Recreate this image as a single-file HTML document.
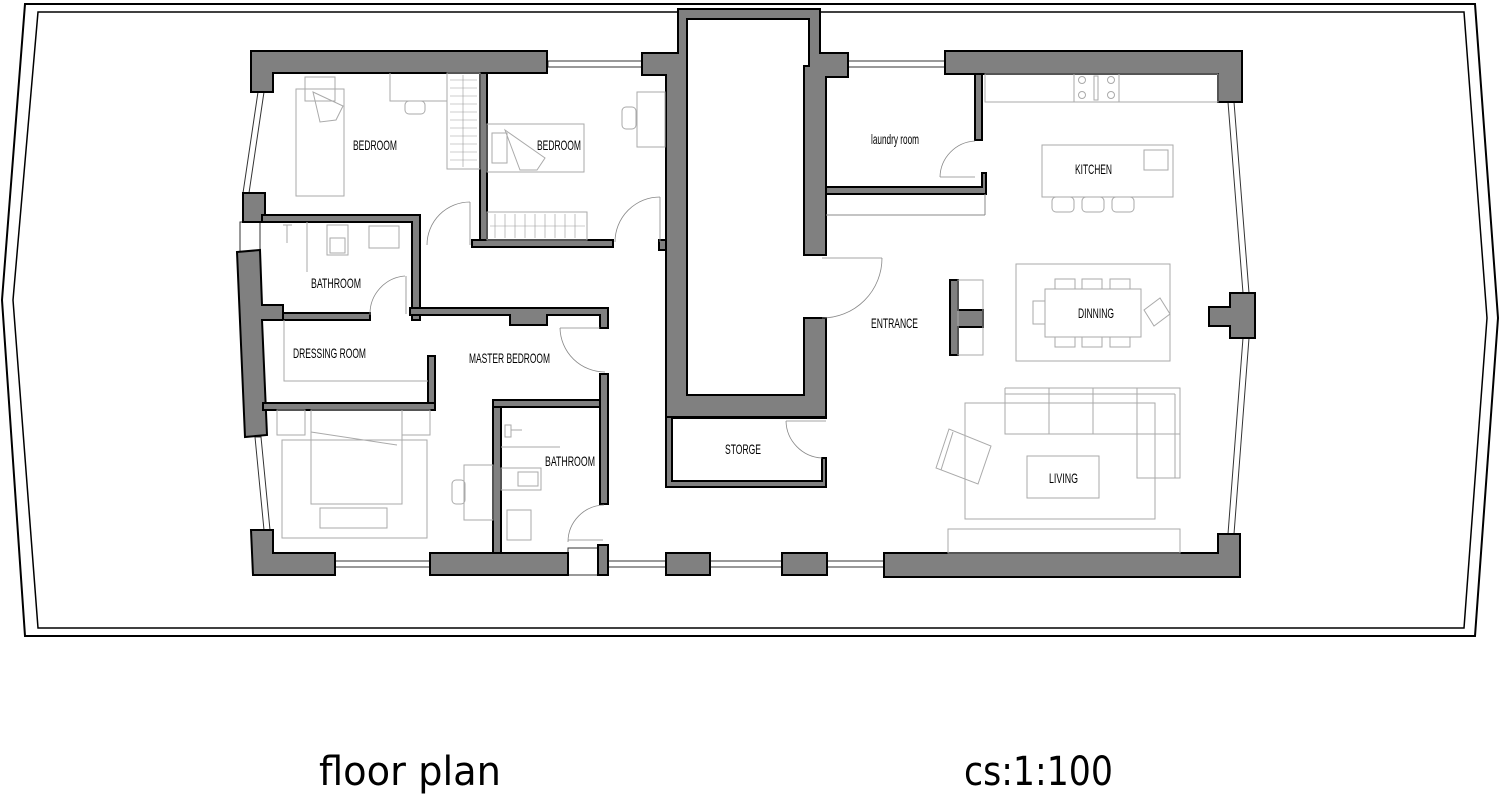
<!DOCTYPE html>
<html><head><meta charset="utf-8">
<style>
html,body{margin:0;padding:0;background:#fff;}
svg{display:block;}
.w{fill:#808080;stroke:#000;stroke-width:2;}
.f{fill:none;stroke:#aaa;stroke-width:1;}
.d{fill:none;stroke:#888;stroke-width:0.8;}
.win{fill:#fff;stroke:#333;stroke-width:1;}
.t{font-family:"Liberation Sans",sans-serif;font-size:14px;fill:#000;}
</style></head>
<body>
<svg width="1500" height="795" viewBox="0 0 1500 795" xmlns="http://www.w3.org/2000/svg">
<polygon points="25,4 1475,4 1498,318 1475,636 25,636 2,300" fill="none" stroke="#000" stroke-width="2"/>
<polygon points="38,12 1464,12 1487,318 1464,628 38,628 13,300" fill="none" stroke="#000" stroke-width="1.5"/>

<rect class="win" x="548" y="61" width="94" height="6"/>
<rect class="win" x="848" y="61" width="97" height="6"/>
<rect class="win" x="335" y="561" width="96" height="6"/>
<rect class="win" x="608" y="561" width="58" height="6"/>
<rect class="win" x="710" y="561" width="72" height="6"/>
<rect class="win" x="827" y="561" width="57" height="6"/>
<rect class="win" x="568" y="548" width="30" height="27" fill="none"/>
<polygon class="win" points="258,92 264,92 249,193 243,193"/>
<polygon class="win" points="255,437 261,437 270,530 264,530"/>
<polygon class="win" points="1228,102 1234,102 1249,293 1243,293"/>
<polygon class="win" points="1243,338 1249,338 1234,534 1228,534"/>
<rect x="240" y="222" width="20" height="30" fill="#fff" stroke="#333" stroke-width="1"/>

<polygon class="w" points="251,51 547,51 547,73 273,73 273,92 251,92"/>
<polygon class="w" points="243,193 265,193 265,216 262,216 262,222 243,222"/>
<polygon class="w" points="237,252 260,250 262,305 283,305 283,320 262,320 267,435 245,437"/>
<polygon class="w" points="251,530 273,530 273,553 335,553 335,575 253,575"/>
<rect class="w" x="430" y="553" width="138" height="22"/>
<rect class="w" x="598" y="545" width="10" height="30"/>
<rect class="w" x="666" y="553" width="44" height="22"/>
<rect class="w" x="782" y="553" width="45" height="22"/>
<polygon class="w" points="884,553 1218,553 1218,534 1240,534 1240,577 884,577"/>
<polygon class="w" points="945,51 1242,51 1242,102 1218,102 1218,74 945,74"/>
<polygon class="w" points="1209,307 1230,307 1230,293 1255,293 1255,338 1230,338 1230,326 1209,326"/>

<path class="w" fill-rule="evenodd" d="M678,9 L820,9 L820,53 L848,53 L848,77 L826,77 L826,255 L804,255 L804,66 L809,66 L809,19 L687,19 L687,395 L804,395 L804,318 L826,318 L826,417 L666,417 L666,75 L642,75 L642,53 L678,53 Z"/>
<path class="w" d="M666,417 L826,417 L826,418 L672,418 L672,481 L822,481 L822,458 L826,458 L826,487 L666,487 Z"/>

<polygon class="w" points="262,215 420,215 420,320 412,320 412,222 262,222"/>
<rect class="w" x="283" y="313" width="87" height="7"/>
<polygon class="w" points="410,308 608,308 608,328 600,328 600,315 547,315 547,325 510,325 510,315 410,315"/>
<rect class="w" x="480" y="73" width="7" height="172"/>
<rect class="w" x="472" y="240" width="141" height="7"/>
<rect class="w" x="659" y="240" width="7" height="10"/>
<rect class="w" x="428" y="356" width="7" height="52"/>
<rect class="w" x="263" y="403" width="172" height="7"/>
<rect class="w" x="493" y="400" width="8" height="153"/>
<rect class="w" x="493" y="400" width="115" height="7"/>
<rect class="w" x="600" y="374" width="8" height="130"/>
<rect class="w" x="975" y="74" width="7" height="66"/>
<polygon class="w" points="826,187 982,187 982,173 986,173 986,194 826,194"/>
<line x1="826" y1="215" x2="985" y2="215" stroke="#888" stroke-width="1"/>
<line x1="985" y1="194" x2="985" y2="215" stroke="#888" stroke-width="1"/>
<polygon class="w" points="950,280 958,280 958,310 983,310 983,327 958,327 958,355 950,355"/>
<rect class="f" x="958" y="280" width="25" height="75"/>

<path class="d" d="M470,202 A43,43 0 0 0 427,245"/><line class="d" x1="470" y1="202" x2="470" y2="245"/>
<path class="d" d="M660,197 A45,45 0 0 0 615,242"/><line class="d" x1="660" y1="197" x2="660" y2="242"/>
<path class="d" d="M405,276 A38,38 0 0 0 370,315"/><line class="d" x1="406" y1="276" x2="406" y2="314"/>
<path class="d" d="M560,328 A45,45 0 0 0 605,372"/><line class="d" x1="560" y1="328" x2="600" y2="328"/>
<path class="d" d="M604,505 A37,37 0 0 0 568,542"/><line class="d" x1="568" y1="540" x2="603" y2="540"/>
<path class="d" d="M882,258 A60,60 0 0 1 822,318"/><line class="d" x1="822" y1="258" x2="882" y2="258"/>
<path class="d" d="M786,421 A38,38 0 0 0 822,458"/><line class="d" x1="786" y1="421" x2="826" y2="421"/>
<path class="d" d="M975,141 A37,37 0 0 0 940,177"/><line class="d" x1="940" y1="177" x2="975" y2="177"/>

<rect class="f" x="296" y="89" width="48" height="107"/>
<rect class="f" x="305" y="77" width="30" height="24"/>
<polygon class="f" points="313,92 343,106 336,120 320,122"/>
<polyline class="f" points="390,73 390,101 447,101"/>
<rect class="f" x="405" y="101" width="20" height="13" rx="4"/>
<rect class="f" x="447" y="73" width="33" height="96"/>
<g stroke="#999" stroke-width="0.6">
<line x1="450" y1="80" x2="477" y2="80"/><line x1="450" y1="88" x2="477" y2="88"/><line x1="450" y1="96" x2="477" y2="96"/><line x1="450" y1="104" x2="477" y2="104"/><line x1="450" y1="112" x2="477" y2="112"/><line x1="450" y1="120" x2="477" y2="120"/><line x1="450" y1="128" x2="477" y2="128"/><line x1="450" y1="136" x2="477" y2="136"/><line x1="450" y1="144" x2="477" y2="144"/><line x1="450" y1="152" x2="477" y2="152"/><line x1="450" y1="160" x2="477" y2="160"/>
<line x1="463" y1="75" x2="463" y2="167"/>
</g>
<rect class="f" x="487" y="124" width="97" height="48"/>
<rect class="f" x="492" y="133" width="15" height="30"/>
<polygon class="f" points="505,130 545,158 537,170 520,170"/>
<rect class="f" x="487" y="212" width="100" height="28"/>
<g stroke="#999" stroke-width="0.6"><line x1="490" y1="226" x2="585" y2="226"/>
<line x1="495" y1="214" x2="495" y2="238"/><line x1="505" y1="214" x2="505" y2="238"/><line x1="515" y1="214" x2="515" y2="238"/><line x1="525" y1="214" x2="525" y2="238"/><line x1="535" y1="214" x2="535" y2="238"/><line x1="545" y1="214" x2="545" y2="238"/><line x1="555" y1="214" x2="555" y2="238"/><line x1="565" y1="214" x2="565" y2="238"/><line x1="575" y1="214" x2="575" y2="238"/></g>
<rect class="f" x="637" y="92" width="28" height="55"/>
<rect class="f" x="622" y="107" width="14" height="22" rx="4"/>
<line class="f" x1="287" y1="225" x2="287" y2="243"/><line class="f" x1="283" y1="225" x2="292" y2="225"/>
<line class="f" x1="307" y1="222" x2="307" y2="272"/>
<rect class="f" x="327" y="225" width="21" height="30"/>
<rect class="f" x="330" y="238" width="15" height="15"/>
<rect class="f" x="369" y="226" width="30" height="22"/>
<polyline class="f" points="284,320 284,381 428,381"/>
<rect class="f" x="277" y="410" width="28" height="25"/><rect class="f" x="402" y="410" width="28" height="25"/>
<rect class="f" x="311" y="410" width="91" height="94"/>
<line class="f" x1="311" y1="432" x2="397" y2="445"/>
<rect class="f" x="282" y="440" width="145" height="98"/>
<rect class="f" x="320" y="508" width="67" height="20"/>
<rect class="f" x="464" y="465" width="29" height="55"/>
<rect class="f" x="452" y="480" width="13" height="24" rx="4"/>
<line class="f" x1="501" y1="447" x2="560" y2="447"/>
<rect class="f" x="505" y="425" width="6" height="12"/><line class="f" x1="511" y1="430" x2="522" y2="430"/>
<rect class="f" x="501" y="468" width="40" height="22"/><rect class="f" x="518" y="472" width="20" height="14"/>
<rect class="f" x="507" y="510" width="24" height="30"/>
<rect class="f" x="985" y="74" width="233" height="28"/>
<rect class="f" x="1074" y="74" width="45" height="28"/>
<circle class="f" cx="1082" cy="80" r="3.5"/><circle class="f" cx="1082" cy="95" r="3.5"/>
<circle class="f" cx="1111" cy="80" r="3.5"/><circle class="f" cx="1111" cy="95" r="3.5"/>
<rect class="f" x="1094" y="76" width="4" height="24"/>
<rect class="f" x="1042" y="145" width="131" height="52"/>
<rect class="f" x="1144" y="150" width="24" height="20"/>
<rect class="f" x="1052" y="197" width="22" height="15" rx="4"/><rect class="f" x="1082" y="197" width="22" height="15" rx="4"/><rect class="f" x="1112" y="197" width="22" height="15" rx="4"/>
<rect class="f" x="1016" y="264" width="154" height="97"/>
<rect class="f" x="1045" y="289" width="96" height="48"/>
<rect class="f" x="1055" y="279" width="20" height="10"/><rect class="f" x="1082" y="279" width="20" height="10"/><rect class="f" x="1110" y="279" width="20" height="10"/>
<rect class="f" x="1055" y="337" width="20" height="10"/><rect class="f" x="1082" y="337" width="20" height="10"/><rect class="f" x="1110" y="337" width="20" height="10"/>
<rect class="f" x="1033" y="301" width="12" height="23"/>
<polygon class="f" points="1144,310 1160,298 1170,314 1154,326"/>
<rect class="f" x="965" y="403" width="190" height="116"/>
<polyline class="f" points="1005,388 1180,388 1180,478 1137,478 1137,434 1005,434 1005,388"/>
<line class="f" x1="1005" y1="394" x2="1175" y2="394"/><line class="f" x1="1175" y1="394" x2="1175" y2="478"/>
<line class="f" x1="1049" y1="388" x2="1049" y2="434"/><line class="f" x1="1093" y1="388" x2="1093" y2="434"/><line class="f" x1="1137" y1="388" x2="1137" y2="434"/><line class="f" x1="1137" y1="434" x2="1180" y2="434"/>
<rect class="f" x="1027" y="456" width="72" height="42"/>
<polygon class="f" points="936,468 949,429 991,446 978,484"/>
<line class="f" x1="941" y1="470" x2="953" y2="432"/>
<rect class="f" x="948" y="529" width="232" height="24"/>

<text class="t" x="353" y="150" textLength="44" lengthAdjust="spacingAndGlyphs">BEDROOM</text>
<text class="t" x="537" y="150" textLength="44" lengthAdjust="spacingAndGlyphs">BEDROOM</text>
<text class="t" x="311" y="288" textLength="50" lengthAdjust="spacingAndGlyphs">BATHROOM</text>
<text class="t" x="293" y="358" textLength="73" lengthAdjust="spacingAndGlyphs">DRESSING ROOM</text>
<text class="t" x="469" y="363" textLength="81" lengthAdjust="spacingAndGlyphs">MASTER BEDROOM</text>
<text class="t" x="545" y="466" textLength="50" lengthAdjust="spacingAndGlyphs">BATHROOM</text>
<text class="t" x="725" y="454" textLength="36" lengthAdjust="spacingAndGlyphs">STORGE</text>
<text class="t" x="871" y="144" textLength="48" lengthAdjust="spacingAndGlyphs">laundry room</text>
<text class="t" x="1075" y="174" textLength="37" lengthAdjust="spacingAndGlyphs">KITCHEN</text>
<text class="t" x="871" y="328" textLength="47" lengthAdjust="spacingAndGlyphs">ENTRANCE</text>
<text class="t" x="1078" y="318" textLength="36" lengthAdjust="spacingAndGlyphs">DINNING</text>
<text class="t" x="1049" y="483" textLength="29" lengthAdjust="spacingAndGlyphs">LIVING</text>

<text x="319" y="785" font-family="DejaVu Sans, sans-serif" font-size="40" textLength="182" lengthAdjust="spacingAndGlyphs">floor plan</text>
<text x="964" y="785" font-family="DejaVu Sans, sans-serif" font-size="40" textLength="149" lengthAdjust="spacingAndGlyphs">cs:1:100</text>
</svg>
</body></html>
